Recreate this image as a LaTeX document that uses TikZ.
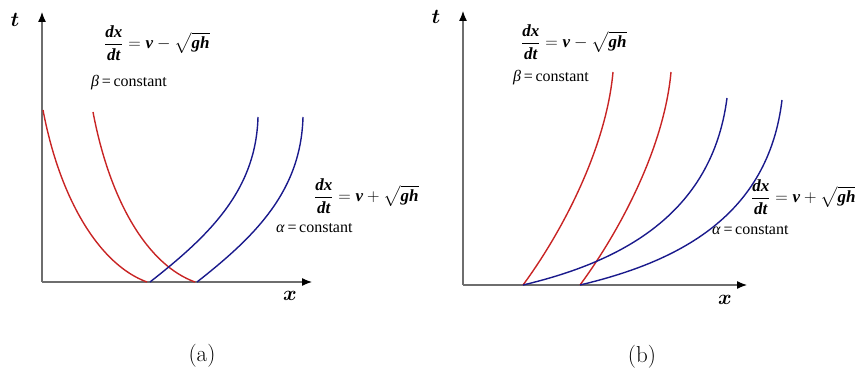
\documentclass[tikz,border=0pt]{standalone}
\usepackage{amsmath,amsbsy}
\usepackage{fontspec}
\newfontfamily\tms{Liberation Serif}
\usetikzlibrary{arrows.meta}
\definecolor{cred}{RGB}{200,36,36}
\definecolor{cblue}{RGB}{26,26,140}
\definecolor{axisgray}{RGB}{110,110,110}
\newcommand{\bi}[1]{\textbf{\textit{#1}}}
\begin{document}
\begin{tikzpicture}[x=1pt,y=-1pt,
  axisline/.style={draw=axisgray,line width=1.2pt,-{Latex[length=10pt,width=8pt,black]}},
  redcurve/.style={draw=cred,line width=1.4pt},
  bluecurve/.style={draw=cblue,line width=1.4pt},
  formula/.style={anchor=west,inner sep=0pt,font=\tms\fontsize{17}{20}\selectfont},
  constlabel/.style={anchor=west,inner sep=0pt,font=\tms\fontsize{16}{18}\selectfont},
  axislabel/.style={inner sep=0pt},
  caption/.style={inner sep=0pt,font=\fontsize{23}{27}\selectfont}]
\useasboundingbox (0,0) rectangle (855,371);

% ---------- panel (a) ----------
\coordinate (Ao) at (42,282);
\coordinate (Ay) at (42,12);
\coordinate (Ax) at (312,282);
\draw[axisline] (Ao) -- (Ay);
\draw[axisline] (Ao) -- (Ax);
\node[axislabel,font=\fontsize{20}{24}\selectfont] (at) at (15,20) {$\boldsymbol{t}$};
\node[axislabel,font=\fontsize{22}{26}\selectfont] (ax) at (290,296) {$\boldsymbol{x}$};

\coordinate (ar1s) at (43,110);  \coordinate (ar1e) at (147,282);
\coordinate (ar2s) at (93,112);  \coordinate (ar2e) at (195,282);
\coordinate (ab1s) at (150,282); \coordinate (ab1e) at (258,117);
\coordinate (ab2s) at (197,282); \coordinate (ab2e) at (303,117);
\draw[redcurve] (ar1s) .. controls (60,200) and (100,265) .. (ar1e);
\draw[redcurve] (ar2s) .. controls (110,202) and (148,265) .. (ar2e);
\draw[bluecurve] (ab1s) .. controls (210,235) and (256,190) .. (ab1e);
\draw[bluecurve] (ab2s) .. controls (257,235) and (301,190) .. (ab2e);

\node[formula] (af1) at (104,43) {$\displaystyle\frac{\bi{dx}}{\bi{dt}}=\bi{v}-\sqrt{\bi{gh}}$};
\node[constlabel] (ab) at (91,83) {\textit{β}\,=\,constant};
\node[formula] (af2) at (314,196) {$\displaystyle\frac{\bi{dx}}{\bi{dt}}=\bi{v}+\sqrt{\bi{gh}}$};
\node[constlabel] (aa) at (276,228) {\textit{α}\,=\,constant};

\node[caption] (capa) at (202,356) {(a)};

% ---------- panel (b) ----------
\coordinate (Bo) at (463,285);
\coordinate (By) at (463,11);
\coordinate (Bx) at (747,285);
\draw[axisline] (Bo) -- (By);
\draw[axisline] (Bo) -- (Bx);
\node[axislabel,font=\fontsize{20}{24}\selectfont] (bt) at (436,17) {$\boldsymbol{t}$};
\node[axislabel,font=\fontsize{22}{26}\selectfont] (bx) at (725,300) {$\boldsymbol{x}$};

\coordinate (br1s) at (523,285); \coordinate (br1e) at (613,72);
\coordinate (br2s) at (580,285); \coordinate (br2e) at (671,72);
\coordinate (bb2e) at (727,98);
\coordinate (bb3e) at (782,100);
\draw[redcurve] (br1s) .. controls (560,235) and (606,150) .. (br1e);
\draw[redcurve] (br2s) .. controls (617,235) and (664,150) .. (br2e);
\draw[bluecurve] (br1s) .. controls (620,262) and (712,215) .. (bb2e);
\draw[bluecurve] (br2s) .. controls (677,262) and (768,217) .. (bb3e);

\node[formula] (bf1) at (521,42) {$\displaystyle\frac{\bi{dx}}{\bi{dt}}=\bi{v}-\sqrt{\bi{gh}}$};
\node[constlabel] (bb) at (513,78) {\textit{β}\,=\,constant};
\node[formula] (bf2) at (751,197) {$\displaystyle\frac{\bi{dx}}{\bi{dt}}=\bi{v}+\sqrt{\bi{gh}}$};
\node[constlabel] (ba) at (712,230) {\textit{α}\,=\,constant};

\node[caption] (capb) at (642,357) {(b)};
\end{tikzpicture}
\end{document}
